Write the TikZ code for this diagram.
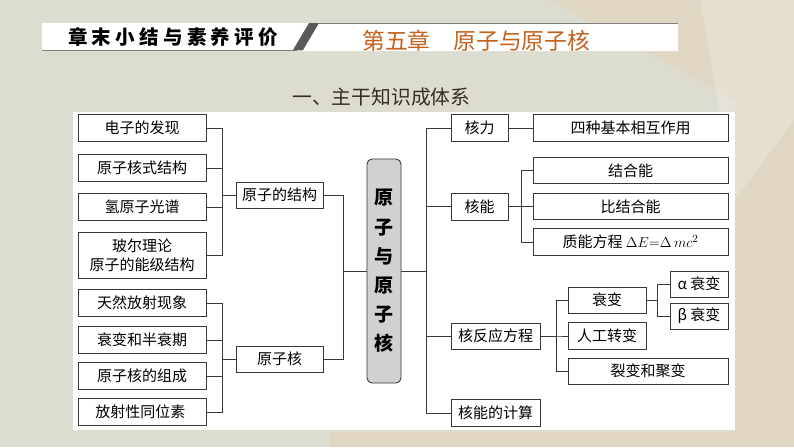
\documentclass[tikz,border=0pt]{standalone}
\usepackage{fontspec}
\newfontfamily\cjk{Noto Sans CJK SC}

\definecolor{bgbase}{HTML}{DCDDD0}
\definecolor{bgbeige}{HTML}{E3D4C0}
\definecolor{chapter}{HTML}{C4621E}
\definecolor{boxline}{HTML}{383838}
\definecolor{subtitle}{HTML}{3A2C24}

\tikzset{
	box/.style={draw=boxline, line width=0.9pt, fill=white, inner sep=0pt,
		minimum height=27pt, align=center, font=\cjk\fontsize{15}{19}\selectfont},
	link/.style={draw=boxline, line width=0.9pt},
}

\begin{document}
\begin{tikzpicture}[x=1pt,y=-1pt,line cap=rect]

\useasboundingbox (0,0) rectangle (794,447);

% Background
\fill[bgbase] (0,0) rectangle (794,447);
\fill[bgbeige, opacity=0.7] (550,0) -- (794,0) -- (794,447) -- (330,447) -- (330,432) -- (735,432) -- (735,100) -- cycle;
\fill[white, opacity=0.2] (700,0) -- (794,0) -- (794,120) -- (735,200) -- cycle;

% Header bar
\fill[white] (42,23) -- (312,23) -- (297,50) -- (42,50) -- cycle;
\draw[gray, line width=0.8pt] (42,50) -- (297,50);
\fill[white] (318,23) -- (678,23) -- (678,51) -- (303,51) -- cycle;
\draw[gray, line width=0.8pt] (318,23) -- (678,23);
\fill[black!65] (293,50) -- (303,50) -- (319,23) -- (309,23) -- cycle;
\node[font=\cjk\bfseries\fontsize{19.5}{19}\selectfont\addfontfeatures{LetterSpace=22}] (head) at (173,37) {章末小结与素养评价};
\node[anchor=west, text=chapter, inner sep=0pt, font=\cjk\fontsize{22.8}{22}\selectfont] (chap) at (362,41) {第五章　原子与原子核};

% Title
\node[anchor=west, text=subtitle, inner sep=0pt, font=\cjk\fontsize{19.8}{20}\selectfont] (title) at (292,97) {一、主干知识成体系};

% White panel
\fill[white] (73,112) rectangle (735,430);

% Left column
\foreach \name/\y/\label in
{
	elec/128/电子的发现, nuc/168/原子核式结构, hspec/207/氢原子光谱,
	radio/303/天然放射现象, decay/340/衰变和半衰期, comp/376/原子核的组成, iso/412/放射性同位素
}
{
	\node[box, minimum width=128pt] (\name) at (142,\y) {\label};
}
\node[box, minimum width=128pt, minimum height=46pt] (bohr) at (142,255) {玻尔理论\\原子的能级结构};

\node[box, minimum width=87pt, minimum height=26pt] (struct) at (279.5,195) {原子的结构};
\node[box, minimum width=87pt, minimum height=26pt] (nucleus) at (279.5,359) {原子核};

\foreach \n in {elec,nuc,hspec,bohr}
	\draw[link] (\n.east) -- ++(16,0) |- (struct.west);
\foreach \n in {radio,decay,comp,iso}
	\draw[link] (\n.east) -- ++(16,0) |- (nucleus.west);

% Main box
\node[box, fill=black!18, rounded corners=5pt, minimum width=34pt, minimum height=224pt,
	font=\cjk\bfseries\fontsize{19}{29.2}\selectfont] (main) at (384,271) {原\\子\\与\\原\\子\\核};

\foreach \n in {struct,nucleus}
	\draw[link] (\n.east) -- ++(20,0) |- (main.west);

% Right column
\node[box, minimum width=57pt] (force) at (479.5,128) {核力};
\node[box, minimum width=57pt] (energy) at (479.5,206.5) {核能};
\node[box, minimum width=89pt, minimum height=26pt] (react) at (495.5,336) {核反应方程};
\node[box, minimum width=89pt] (calc) at (495.5,413) {核能的计算};

\foreach \n in {force,energy,react,calc}
	\draw[link] (main.east) -- ++(25,0) |- (\n.west);

% Nuclear force and energy
\node[box, minimum width=195pt] (four) at (630.5,128) {四种基本相互作用};
\node[box, minimum width=195pt, minimum height=26pt] (bind) at (630.5,170.5) {结合能};
\node[box, minimum width=195pt, minimum height=26pt] (spec) at (630.5,206.5) {比结合能};
\node[box, minimum width=195pt] (mass) at (630.5,242) {质能方程 $\Delta E{=}\Delta\,mc^{2}$};

\draw[link] (force) -- (four);
\foreach \n in {bind,spec,mass}
	\draw[link] (energy.east) -- ++(13,0) |- (\n.west);

% Nuclear reactions
\node[box, minimum width=78pt, minimum height=26pt] (dec) at (607,300) {衰变};
\node[box, minimum width=78pt] (art) at (607,336) {人工转变};
\node[box, minimum width=160pt, minimum height=26pt] (fis) at (648,371) {裂变和聚变};
\node[box, minimum width=58pt, minimum height=26pt] (alpha) at (699,284) {α 衰变};
\node[box, minimum width=58pt, minimum height=26pt] (beta) at (699,316) {β 衰变};

\foreach \n in {dec,art,fis}
	\draw[link] (react.east) -- ++(16,0) |- (\n.west);
\foreach \n in {alpha,beta}
	\draw[link] (dec.east) -- ++(11,0) |- (\n.west);

\end{tikzpicture}
\end{document}
